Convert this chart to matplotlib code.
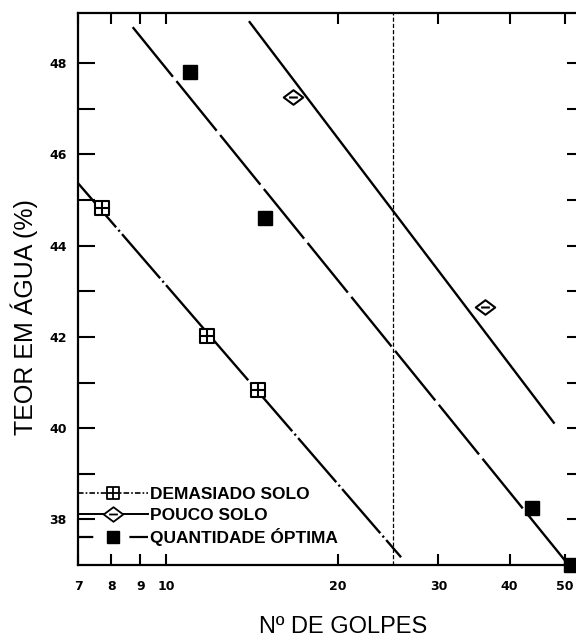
import matplotlib
matplotlib.use('Agg')
import matplotlib.pyplot as plt
from matplotlib.path import Path
from matplotlib.lines import Line2D
from matplotlib.ticker import FixedLocator, FixedFormatter, NullLocator

plt.rcParams['lines.scale_dashes'] = False

# Ensaio de Casagrande: teor em agua vs numero de golpes
demasiado_golpes = [7.7, 11.8, 14.5]
demasiado_teor = [44.83, 42.03, 40.84]
demasiado_reta_x = [7.0, 25.8]
demasiado_reta_y = [45.37, 37.17]

pouco_golpes = [16.7, 36.2]
pouco_teor = [47.26, 42.66]
pouco_reta_x = [14.0, 47.8]
pouco_reta_y = [48.9, 40.12]

optima_golpes = [11.0, 14.9, 43.7, 51.3]
optima_teor = [47.8, 44.6, 38.24, 37.0]
optima_reta_x = [8.73, 50.0]
optima_reta_y = [48.79, 37.1]

golpes_ref = 25
x_ticks = [7, 8, 9, 10, 20, 30, 40, 50]
x_labels = ['7', '8', '9', '10', '20', '30', '40', '50']
y_ticks = [38, 40, 42, 44, 46, 48]
y_minor = [39, 41, 43, 45, 47]

legendas = ['DEMASIADO SOLO', 'POUCO SOLO', 'QUANTIDADE ÓPTIMA']

M, L, C = Path.MOVETO, Path.LINETO, Path.CLOSEPOLY
# quadrado com cruz
quad_mais = Path([(-1, -1), (1, -1), (1, 1), (-1, 1), (-1, -1),
                  (0, -1), (0, 1), (-1, 0), (1, 0)],
                 [M, L, L, L, C, M, L, M, L])
# losango com traco
losango_menos = Path([(-1, 0), (0, 0.75), (1, 0), (0, -0.75), (-1, 0),
                      (-0.45, 0), (0.45, 0)],
                     [M, L, L, L, C, M, L])

fig = plt.figure(figsize=(5.76, 6.41), dpi=100)
ax = fig.add_axes([78 / 576, 76 / 641, 506 / 576, 552 / 641])
ax.set_xscale('log')
ax.set_xlim(7, 54)
ax.set_ylim(37, 49.1)

ax.plot(demasiado_reta_x, demasiado_reta_y, color='black', lw=1.7,
        ls=(0, (42, 2.5, 1.5, 2.5)))
ax.plot(pouco_reta_x, pouco_reta_y, color='black', lw=1.7)
ax.plot(optima_reta_x, optima_reta_y, color='black', lw=1.7,
        ls=(0, (46, 4)))
ax.axvline(golpes_ref, color='black', lw=0.9, ls=(0, (3, 1.5)))

ax.plot(demasiado_golpes, demasiado_teor, ls='none', marker=quad_mais,
        ms=10.5, mfc='white', mec='black', mew=1.5, clip_on=False, zorder=4)
ax.plot(pouco_golpes, pouco_teor, ls='none', marker=losango_menos,
        ms=14, mfc='white', mec='black', mew=1.5, clip_on=False, zorder=4)
ax.plot(optima_golpes, optima_teor, ls='none', marker='s', ms=10,
        mfc='black', mec='black', clip_on=False, zorder=4)

h1 = Line2D([], [], color='black', lw=1.2, ls=(0, (4, 1.5, 1.2, 1.5)),
            marker=quad_mais, ms=9, mfc='white', mec='black', mew=1.3)
h2 = Line2D([], [], color='black', lw=1.4, marker=losango_menos, ms=14,
            mfc='white', mec='black', mew=1.3)
h3 = Line2D([], [], color='black', lw=1.6, ls=(0, (11, 26, 14, 26)),
            marker='s', ms=9, mfc='black', mec='black')
ax.legend([h1, h2, h3], legendas, loc='lower left',
          bbox_to_anchor=(0.0, 0.034), frameon=False, borderpad=0,
          borderaxespad=0, handlelength=4.05, handletextpad=0.1,
          labelspacing=0.32, numpoints=1,
          prop={'family': 'Liberation Sans', 'weight': 'bold', 'size': 12.5})

ax.xaxis.set_major_locator(FixedLocator(x_ticks))
ax.xaxis.set_major_formatter(FixedFormatter(x_labels))
ax.xaxis.set_minor_locator(NullLocator())
ax.yaxis.set_major_locator(FixedLocator(y_ticks))
ax.yaxis.set_minor_locator(FixedLocator(y_minor))

ax.tick_params(axis='both', which='both', direction='in', top=True,
               right=True, width=1.5, color='black')
ax.tick_params(axis='x', length=8, pad=11)
ax.tick_params(axis='y', which='both', length=12, pad=8)
for lab in ax.get_xticklabels() + ax.get_yticklabels():
    lab.set_fontfamily('DejaVu Sans')
    lab.set_fontweight('heavy')
    lab.set_fontsize(9)

for s in ax.spines.values():
    s.set_linewidth(1.6)

ax.set_ylabel('TEOR EM ÁGUA (%)', family='Liberation Sans', fontsize=18,
              va='center')
ax.yaxis.set_label_coords(-0.107, 0.449)
ax.set_xlabel('Nº DE GOLPES', family='Liberation Sans', fontsize=17,
              va='center')
ax.xaxis.set_label_coords(0.524, -0.112)

fig.savefig('out.png', dpi=100)
